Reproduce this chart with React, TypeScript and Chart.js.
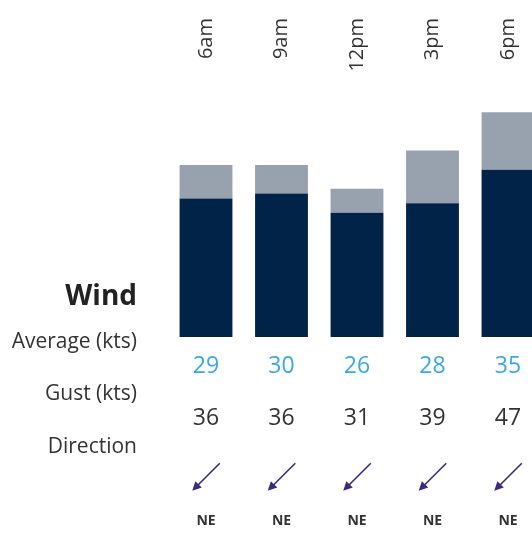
import React, { useEffect, useRef } from "react";
import { Chart, registerables } from "chart.js";

Chart.register(...registerables);

const times = ["6am", "9am", "12pm", "3pm", "6pm"];
const averageKts = [29, 30, 26, 28, 35];
const gustKts = [36, 36, 31, 39, 47];
const directions = ["NE", "NE", "NE", "NE", "NE"];
const rowLabels = ["Average (kts)", "Gust (kts)", "Direction"];
const title = "Wind";

const compass: Record<string, number> = {
  N: 0, NE: 45, E: 90, SE: 135, S: 180, SW: 225, W: 270, NW: 315,
};

const FONT = "'Open Sans', 'Noto Sans', sans-serif";
const NAVY = "#022348";
const GREY = "#98a2ae";
const BLUE = "#3aa8e4";
const TEXT = "#333333";
const ARROW = "#3d2a7e";

const overlayPlugin = {
  id: "windOverlay",
  afterDraw(chart: any) {
    const ctx = chart.ctx as CanvasRenderingContext2D;
    const xs = chart.scales.x;
    ctx.save();
    ctx.textAlign = "right";
    ctx.textBaseline = "alphabetic";
    ctx.fillStyle = "#222222";
    ctx.font = `bold 28px ${FONT}`;
    ctx.fillText(title, 137, 305);
    ctx.textBaseline = "middle";
    ctx.fillStyle = TEXT;
    ctx.font = `21px ${FONT}`;
    const rowY = [342, 394, 447];
    rowLabels.forEach((t, i) => ctx.fillText(t, 137, rowY[i]));

    times.forEach((t, i) => {
      const x = xs.getPixelForValue(i);
      ctx.save();
      ctx.translate(x, 18);
      ctx.rotate(-Math.PI / 2);
      ctx.textAlign = "right";
      ctx.textBaseline = "middle";
      ctx.fillStyle = TEXT;
      ctx.font = `20px ${FONT}`;
      ctx.fillText(t, 0, 0);
      ctx.restore();

      ctx.textAlign = "center";
      ctx.textBaseline = "middle";
      ctx.font = `23px ${FONT}`;
      ctx.fillStyle = BLUE;
      ctx.fillText(String(averageKts[i]), x, 366);
      ctx.fillStyle = TEXT;
      ctx.fillText(String(gustKts[i]), x, 418);

      const deg = (compass[directions[i]] ?? 0) + 180;
      const rad = (deg * Math.PI) / 180;
      const dx = Math.sin(rad);
      const dy = -Math.cos(rad);
      const cx = x;
      const cy = 477;
      const half = 19.5;
      const x1 = cx - dx * half, y1 = cy - dy * half;
      const x2 = cx + dx * half, y2 = cy + dy * half;
      ctx.strokeStyle = ARROW;
      ctx.fillStyle = ARROW;
      ctx.lineWidth = 1.6;
      ctx.beginPath();
      ctx.moveTo(x1, y1);
      ctx.lineTo(x2 - dx * 5, y2 - dy * 5);
      ctx.stroke();
      const px = -dy, py = dx;
      ctx.beginPath();
      ctx.moveTo(x2, y2);
      ctx.lineTo(x2 - dx * 9 + px * 4.5, y2 - dy * 9 + py * 4.5);
      ctx.lineTo(x2 - dx * 9 - px * 4.5, y2 - dy * 9 - py * 4.5);
      ctx.closePath();
      ctx.fill();

      ctx.font = `bold 14px ${FONT}`;
      ctx.fillStyle = TEXT;
      ctx.fillText(directions[i], x, 521);
    });
    ctx.restore();
  },
};

export default function App() {
  const ref = useRef<HTMLCanvasElement | null>(null);
  useEffect(() => {
    if (!ref.current) return;
    const chart = new Chart(ref.current, {
      type: "bar",
      data: {
        labels: times,
        datasets: [
          {
            label: "Average",
            data: averageKts,
            backgroundColor: NAVY,
            categoryPercentage: 1,
            barPercentage: 0.7,
          },
          {
            label: "Gust",
            data: gustKts.map((g, i) => g - averageKts[i]),
            backgroundColor: GREY,
            categoryPercentage: 1,
            barPercentage: 0.7,
          },
        ],
      },
      options: {
        responsive: false,
        animation: false,
        layout: { padding: { left: 168.25, right: 14.25, top: 98, bottom: 200 } },
        plugins: { legend: { display: false }, tooltip: { enabled: false } },
        scales: {
          x: { stacked: true, display: false },
          y: { stacked: true, display: false, min: 0, max: 50 },
        },
      },
      plugins: [overlayPlugin],
    });
    return () => chart.destroy();
  }, []);
  return (
    <div style={{ position: "fixed", left: 0, top: 0, width: 532, height: 537, overflow: "hidden", background: "#fff" }}>
      <canvas ref={ref} width={560} height={537} style={{ display: "block" }} />
    </div>
  );
}
